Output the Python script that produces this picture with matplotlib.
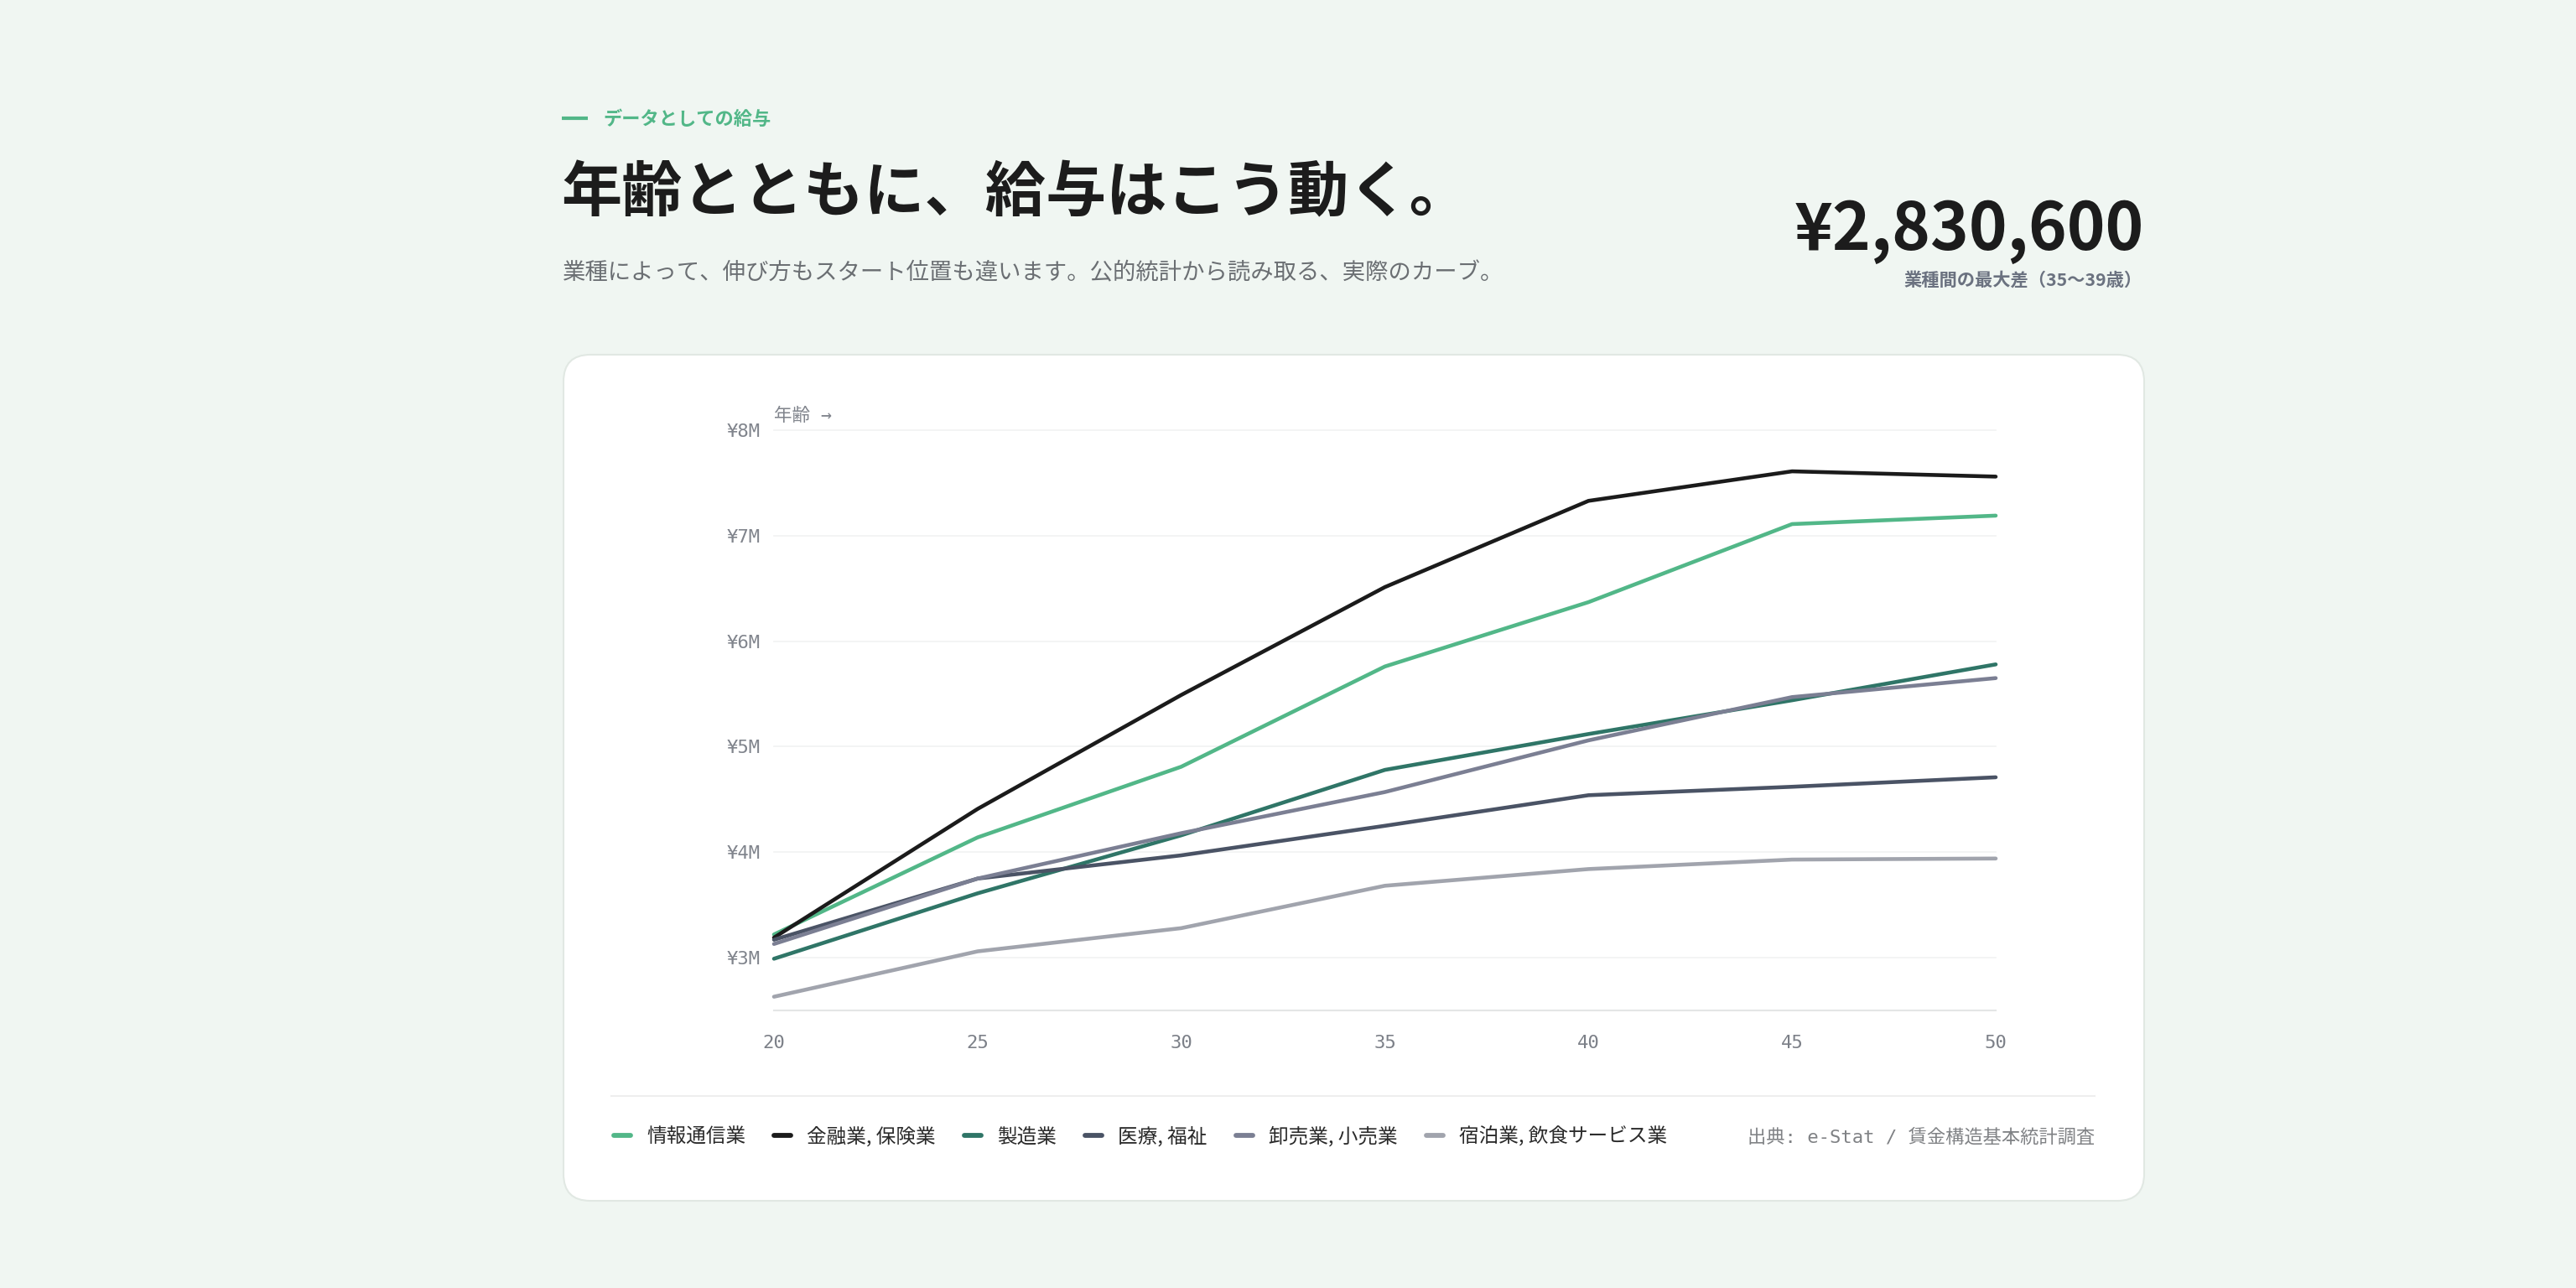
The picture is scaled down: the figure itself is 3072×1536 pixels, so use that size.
import matplotlib
matplotlib.use('Agg')
import matplotlib.pyplot as plt
from matplotlib.patches import FancyBboxPatch
from matplotlib.lines import Line2D

plt.rcParams['font.family'] = ['Noto Sans CJK JP', 'DejaVu Sans']
MONO = ['DejaVu Sans Mono', 'Noto Sans CJK JP']

# ---- data (annual salary, yen) ----
ages = [20, 25, 30, 35, 40, 45, 50]
industries = ['情報通信業', '金融業, 保険業', '製造業', '医療, 福祉', '卸売業, 小売業', '宿泊業, 飲食サービス業']
info_comm = [3220000, 4140000, 4810000, 5760000, 6370000, 7110000, 7190000]
finance = [3190000, 4410000, 5490000, 6512400, 7330000, 7610000, 7560000]
manufacturing = [2990000, 3610000, 4160000, 4780000, 5120000, 5440000, 5780000]
medical = [3170000, 3750000, 3970000, 4250000, 4540000, 4620000, 4710000]
retail = [3130000, 3750000, 4180000, 4570000, 5060000, 5470000, 5650000]
hospitality = [2630000, 3060000, 3280000, 3681800, 3840000, 3930000, 3940000]
series = [info_comm, finance, manufacturing, medical, retail, hospitality]

y_ticks = [3000000, 4000000, 5000000, 6000000, 7000000, 8000000]
y_tick_labels = ['¥3M', '¥4M', '¥5M', '¥6M', '¥7M', '¥8M']
x_ticks = ages
x_tick_labels = ['20', '25', '30', '35', '40', '45', '50']

colors = ['#52b788', '#1b1b1b', '#2f7567', '#4a5365', '#7b7f93', '#a1a4ad']

# biggest gap between industries in the 35-39 bracket
i35 = ages.index(35)
at35 = [s[i35] for s in series]
max_gap = max(at35) - min(at35)

W, H = 3072, 1536
fig = plt.figure(figsize=(W / 100, H / 100), dpi=100, facecolor='#f0f6f2')

# background layer in pixel coordinates
bg = fig.add_axes([0, 0, 1, 1], zorder=0)
bg.set_xlim(0, W)
bg.set_ylim(H, 0)
bg.axis('off')

card = FancyBboxPatch((672, 423), 2557 - 672, 1432 - 423,
                      boxstyle='round,pad=0,rounding_size=32',
                      fc='white', ec='#e1e8e3', lw=1.5)
bg.add_patch(card)

# header
bg.add_line(Line2D([670, 701], [141, 141], color='#52b788', lw=3, solid_capstyle='butt'))
bg.text(719, 142, 'データとしての給与', fontsize=16, fontweight='bold', color='#52b788',
        ha='left', va='center')
bg.text(669, 231, '年齢とともに、給与はこう動く。', fontsize=52, fontweight='bold',
        color='#1c1c1c', ha='left', va='center')
bg.text(671, 326, '業種によって、伸び方もスタート位置も違います。公的統計から読み取る、実際のカーブ。',
        fontsize=19.7, color='#6b6f73', ha='left', va='center')

bg.text(2557, 298, f'¥{max_gap:,}', fontsize=56, fontweight='bold', color='#1c1c1c',
        ha='right', va='baseline')
bg.text(2555, 334, '業種間の最大差（35〜39歳）', fontsize=15.3, fontweight='bold',
        color='#6b7280', ha='right', va='center')

# separator + source
bg.add_line(Line2D([729, 2498], [1307, 1307], color='#eeeeee', lw=1.5))
bg.text(2498, 1356, '出典: e-Stat / 賃金構造基本統計調査', fontsize=16, family=MONO,
        color='#808285', ha='right', va='center')
bg.text(923, 496, '年齢 →', fontsize=15.5, family=MONO, color='#80848c',
        ha='left', va='center')

# chart
ax = fig.add_axes([923 / W, 1 - 1205 / H, (2380 - 923) / W, (1205 - 513) / H], zorder=1)
ax.patch.set_alpha(0)

handles = []
for name, vals, c in zip(industries, series, colors):
    ln, = ax.plot(ages, vals, color=c, lw=3.3, label=name, clip_on=False,
                  solid_capstyle='round', solid_joinstyle='round')
    handles.append(ln)

ax.set_xlim(20, 50)
ax.set_ylim(2500000, 8000000)
ax.set_yticks(y_ticks, labels=y_tick_labels, fontfamily=MONO, fontsize=16, color='#80848c')
ax.set_xticks(x_ticks, labels=x_tick_labels, fontfamily=MONO, fontsize=16, color='#7c8088')
ax.tick_params(axis='both', length=0)
ax.tick_params(axis='y', pad=11.5)
ax.tick_params(axis='x', pad=21)
ax.grid(axis='y', color='#f1f2f2', lw=1.2, zorder=0)
for gl in ax.get_ygridlines():
    gl.set_clip_on(False)
ax.set_axisbelow(True)
for side in ['top', 'left', 'right']:
    ax.spines[side].set_visible(False)
ax.spines['bottom'].set_color('#e4e6e6')
ax.spines['bottom'].set_linewidth(1.5)

leg = fig.legend(handles, industries, loc='center left', bbox_to_anchor=(732 / W, 1 - 1355 / H),
                 ncol=6, frameon=False, fontsize=17, handlelength=0.85, handletextpad=0.8,
                 columnspacing=1.45, borderaxespad=0, borderpad=0)
for l in leg.get_lines():
    l.set_linewidth(4.2)
for t in leg.get_texts():
    t.set_color('#2a2a2a')

fig.savefig('out.png', dpi=100, facecolor=fig.get_facecolor())
